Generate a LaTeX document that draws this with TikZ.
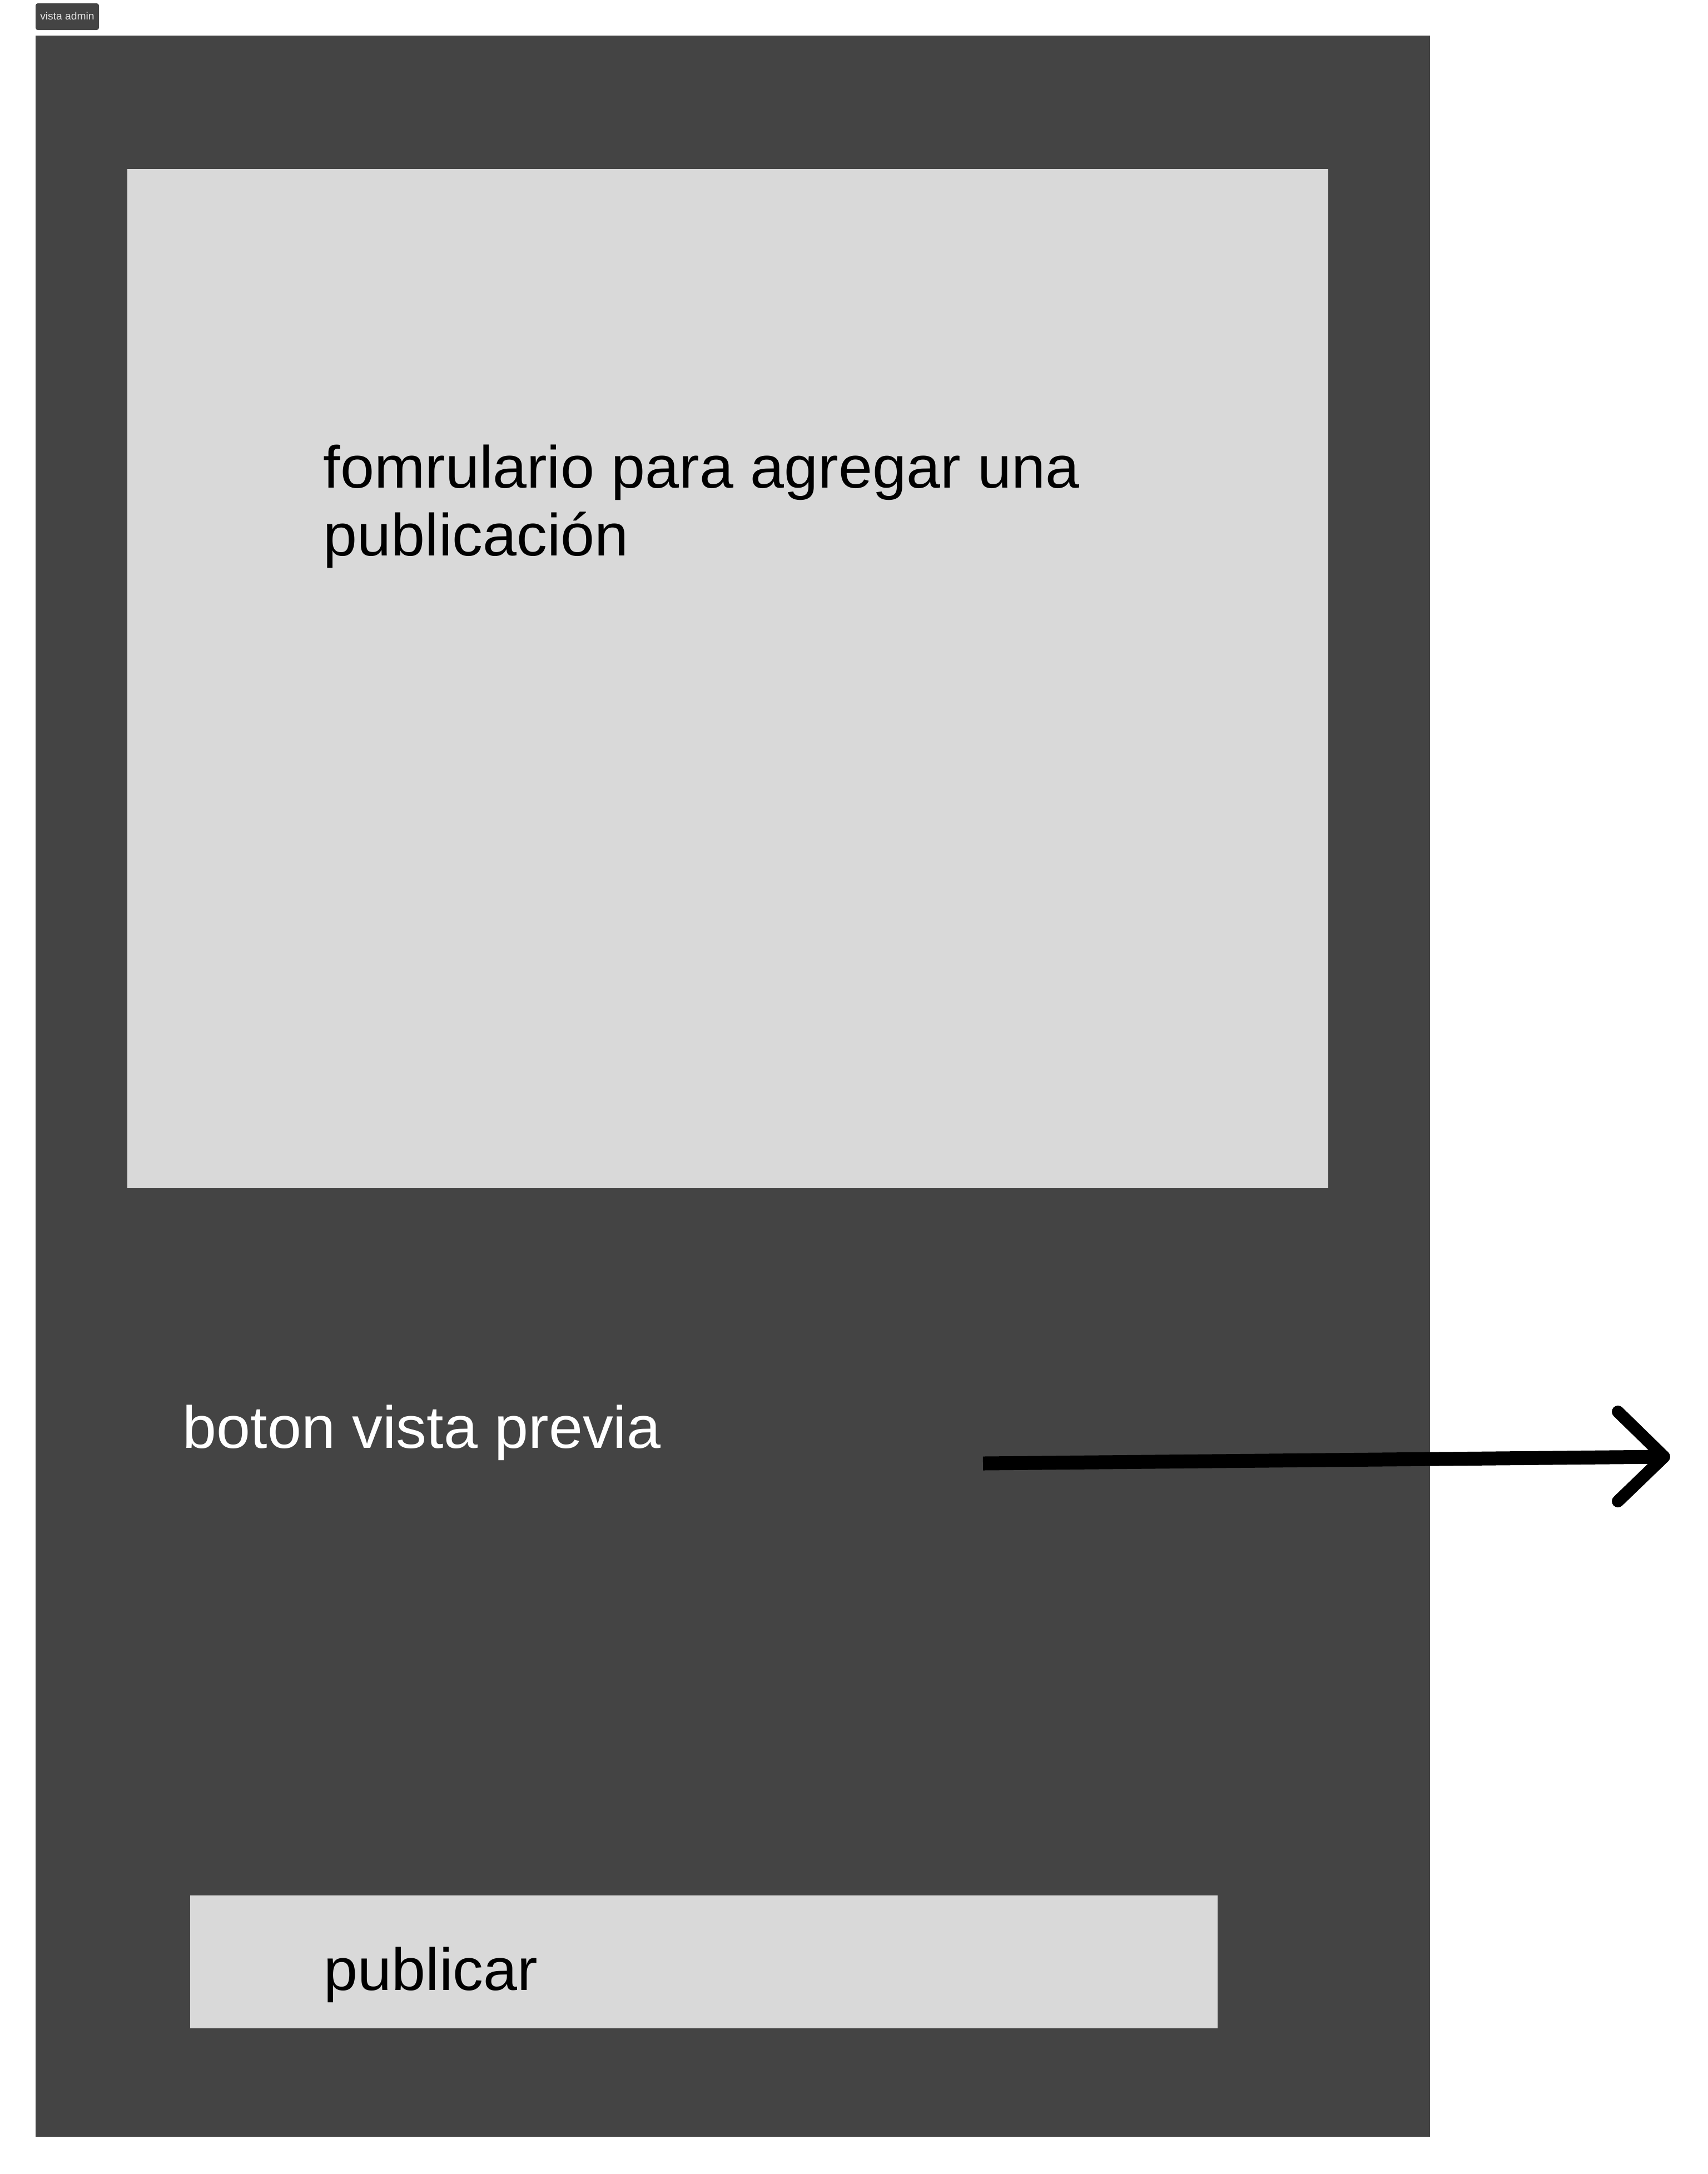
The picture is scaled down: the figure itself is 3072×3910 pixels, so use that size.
\documentclass[tikz,border=0pt]{standalone}
\usepackage{fontspec}
\setmainfont[FakeStretch=1.025]{Liberation Sans}
\definecolor{panelgray}{HTML}{444444}
\definecolor{boxgray}{HTML}{D9D9D9}
\definecolor{tagtext}{HTML}{E6E6E6}
\begin{document}
\begin{tikzpicture}[x=0.25pt,y=-0.25pt,
  frame/.style={fill=panelgray},
  lightbox/.style={fill=boxgray},
  bigtext/.style={inner sep=0pt, font=\fontsize{26.75pt}{32pt}\selectfont},
  tagbox/.style={fill=panelgray, rounded corners=1pt},
  tagtext/.style={inner sep=0pt, text=tagtext, font=\fontsize{4.7pt}{5.5pt}\selectfont},
  arrowline/.style={draw=black, line width=6.25pt},
  arrowhead/.style={draw=black, line width=5.5pt, line cap=round, line join=round}]
\useasboundingbox (0,0) rectangle (3072,3910);

% frame label
\path[tagbox] (64,6) rectangle (178,54);
\node[tagtext, anchor=base] (tag) at (121,35) {vista admin};

% main panel
\path[frame] (64,64) rectangle (2572,3843);

% form area
\path[lightbox] (229,304) rectangle (2389,2137);
\node[bigtext, anchor=base west] (formA) at (581,877) {fomrulario para agregar una};
\node[bigtext, anchor=base west] (formB) at (581,999) {publicación};

% preview button label
\node[bigtext, text=white, anchor=base west] (preview) at (328,2604) {boton vista previa};

% publish button
\path[lightbox] (342,3409) rectangle (2190,3648);
\node[bigtext, anchor=base west] (publish) at (582,3579) {publicar};

% arrow to the preview view
\coordinate (arrowstart) at (1768,2632);
\coordinate (arrowtip) at (2993,2620);
\draw[arrowline] (arrowstart) -- (arrowtip);
\draw[arrowhead] (arrowtip) ++(-83,-81) -- (arrowtip) -- ++(-83,80);
\end{tikzpicture}
\end{document}
